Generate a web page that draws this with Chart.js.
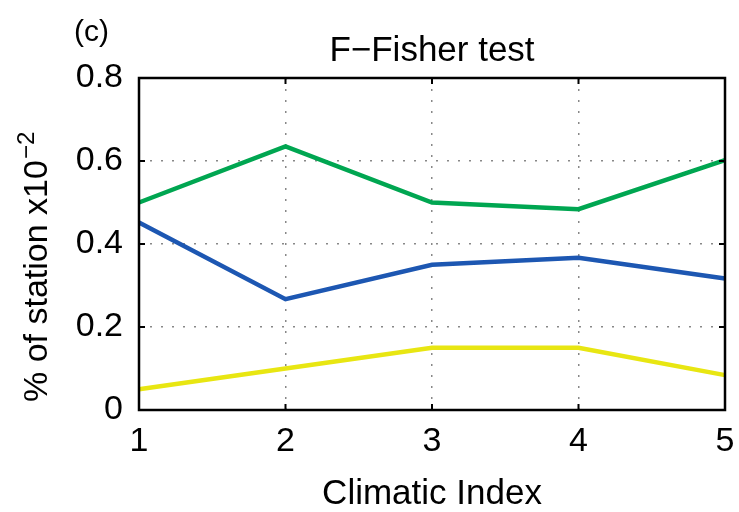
<!DOCTYPE html>
<html>
<head>
<meta charset="utf-8">
<script src="https://cdn.jsdelivr.net/npm/chart.js@4"></script>
<style>
  html, body { margin: 0; padding: 0; background: #fff; }
  #wrap { width: 739px; height: 512px; }
</style>
</head>
<body>
<div id="wrap"><canvas id="c" width="739" height="512"></canvas></div>
<script>
const categories = ['1', '2', '3', '4', '5'];
const greenValues = [0.50, 0.635, 0.50, 0.484, 0.602];
const blueValues = [0.452, 0.267, 0.350, 0.367, 0.317];
const yellowValues = [0.050, 0.100, 0.150, 0.150, 0.084];
const yTicks = [0, 0.2, 0.4, 0.6, 0.8];
const panelLabel = '(c)';
const chartTitle = 'F\u2212Fisher test';
const xTitle = 'Climatic Index';
const yTitleMain = '% of station x10';
const yTitleSup = '\u22122';

const FONT = '"Liberation Sans", Arial, Helvetica, sans-serif';

const framePlugin = {
  id: 'frame',
  afterDraw(chart) {
    const { ctx, chartArea: a, scales } = chart;
    ctx.save();
    ctx.strokeStyle = '#000';
    ctx.lineWidth = 2;
    ctx.beginPath();
    const tl = 6;
    yTicks.forEach(v => {
      const y = scales.y.getPixelForValue(v);
      ctx.moveTo(a.left, y); ctx.lineTo(a.left + tl, y);
      ctx.moveTo(a.right, y); ctx.lineTo(a.right - tl, y);
    });
    categories.forEach((c, i) => {
      const x = scales.x.getPixelForValue(i);
      ctx.moveTo(x, a.bottom); ctx.lineTo(x, a.bottom - tl);
      ctx.moveTo(x, a.top); ctx.lineTo(x, a.top + tl);
    });
    ctx.stroke();
    ctx.lineWidth = 2.5;
    ctx.strokeRect(a.left, a.top, a.right - a.left, a.bottom - a.top);
    ctx.fillStyle = '#000';
    ctx.textBaseline = 'alphabetic';
    ctx.textAlign = 'left';
    ctx.font = '30px ' + FONT;
    ctx.fillText(panelLabel, 74, 41);
    ctx.font = '35px ' + FONT;
    ctx.textAlign = 'center';
    ctx.fillText(chartTitle, (a.left + a.right) / 2, 61);
    // y-axis title with superscript
    ctx.translate(47, (a.top + a.bottom) / 2 + 158);
    ctx.rotate(-Math.PI / 2);
    ctx.textAlign = 'left';
    ctx.font = '34px ' + FONT;
    ctx.fillText(yTitleMain, 0, 0);
    const w = ctx.measureText(yTitleMain).width;
    ctx.font = '24px ' + FONT;
    ctx.fillText(yTitleSup, w + 1, -13);
    ctx.restore();
  }
};

const lineDs = (data, color) => ({
  data, borderColor: color, backgroundColor: color,
  borderWidth: 4.5, pointRadius: 0, tension: 0, fill: false,
  borderJoinStyle: 'miter'
});

const gridOpts = { color: '#888', lineWidth: 1.5, drawTicks: false };
const borderOpts = { display: false, dash: [2, 9] };

new Chart(document.getElementById('c'), {
  type: 'line',
  data: {
    labels: categories,
    datasets: [
      lineDs(greenValues, '#00a651'),
      lineDs(blueValues, '#1d57b2'),
      lineDs(yellowValues, '#e8e612')
    ]
  },
  options: {
    responsive: false,
    animation: false,
    devicePixelRatio: 1,
    layout: { padding: { left: 0, right: 14, top: 78, bottom: 0 } },
    plugins: { legend: { display: false }, tooltip: { enabled: false }, title: { display: false } },
    scales: {
      x: {
        type: 'category',
        offset: false,
        grid: gridOpts,
        border: borderOpts,
        ticks: { color: '#000', font: { family: FONT, size: 34 }, padding: 11, maxRotation: 0 },
        title: { display: true, text: xTitle, color: '#000', font: { family: FONT, size: 35, lineHeight: 1.0 }, padding: { top: 0, bottom: 0 } },
        afterFit(s) { s.height = 102; s.paddingRight = 0; s.paddingLeft = 0; }
      },
      y: {
        min: 0, max: 0.8,
        grid: gridOpts,
        border: borderOpts,
        afterBuildTicks(s) { s.ticks = yTicks.map(v => ({ value: v })); },
        ticks: {
          color: '#000', font: { family: FONT, size: 34 }, padding: 16,
          callback: v => (v === 0 ? '0' : v.toFixed(1))
        },
        title: { display: false },
        afterFit(s) { s.width = 139; }
      }
    }
  },
  plugins: [framePlugin]
});
</script>
</body>
</html>
